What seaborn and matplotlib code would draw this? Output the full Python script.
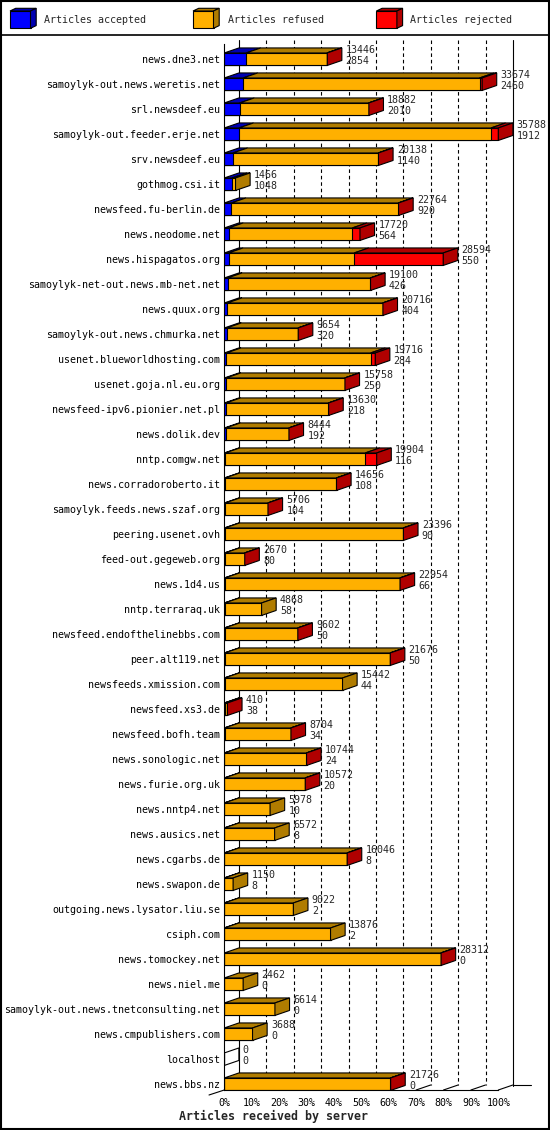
import matplotlib
matplotlib.use("Agg")
import matplotlib.pyplot as plt
from matplotlib.patches import Polygon, Rectangle
import pandas as pd
import seaborn as sns

# ---- data ----------------------------------------------------------------
servers = [
    "news.dne3.net", "samoylyk-out.news.weretis.net", "srl.newsdeef.eu",
    "samoylyk-out.feeder.erje.net", "srv.newsdeef.eu", "gothmog.csi.it",
    "newsfeed.fu-berlin.de", "news.neodome.net", "news.hispagatos.org",
    "samoylyk-net-out.news.mb-net.net", "news.quux.org",
    "samoylyk-out.news.chmurka.net", "usenet.blueworldhosting.com",
    "usenet.goja.nl.eu.org", "newsfeed-ipv6.pionier.net.pl", "news.dolik.dev",
    "nntp.comgw.net", "news.corradoroberto.it", "samoylyk.feeds.news.szaf.org",
    "peering.usenet.ovh", "feed-out.gegeweb.org", "news.1d4.us",
    "nntp.terraraq.uk", "newsfeed.endofthelinebbs.com", "peer.alt119.net",
    "newsfeeds.xmission.com", "newsfeed.xs3.de", "newsfeed.bofh.team",
    "news.sonologic.net", "news.furie.org.uk", "news.nntp4.net",
    "news.ausics.net", "news.cgarbs.de", "news.swapon.de",
    "outgoing.news.lysator.liu.se", "csiph.com", "news.tomockey.net",
    "news.niel.me", "samoylyk-out.news.tnetconsulting.net",
    "news.cmpublishers.com", "localhost", "news.bbs.nz",
]
accepted = [2854, 2460, 2010, 1912, 1140, 1048, 920, 564, 550, 426, 404, 320,
            284, 250, 218, 192, 116, 108, 104, 90, 80, 66, 58, 50, 50, 44, 38,
            34, 24, 20, 10, 8, 8, 8, 2, 2, 0, 0, 0, 0, 0, 0]
refused = [10552, 30884, 16842, 32926, 18968, 418, 21804, 16156, 16414, 18644,
           20292, 9314, 18832, 15488, 13382, 8242, 18288, 14528, 5592, 23286,
           2580, 22868, 4810, 9542, 21606, 15398, 362, 8660, 10710, 10542,
           5968, 6564, 16028, 1142, 9020, 13874, 28292, 2462, 6614, 3688, 0,
           21706]
rejected = [40, 330, 30, 950, 30, 0, 40, 1000, 11630, 30, 20, 20, 600, 20, 30,
            10, 1500, 20, 10, 20, 10, 20, 0, 10, 20, 0, 10, 10, 10, 10, 0, 0,
            10, 0, 0, 0, 20, 0, 0, 0, 0, 20]
pct_ticks = list(range(0, 101, 10))
legend_labels = ["Articles accepted", "Articles refused", "Articles rejected"]

BLUE, BLUE_D = "#0000ff", "#0000b0"
ORANGE, ORANGE_D = "#ffb000", "#b07c00"
RED, RED_D = "#ff0000", "#b00000"

sns.set_style("white")
plt.rcParams["font.family"] = ["DejaVu Sans Mono"]
FS = 7.2
LW = 0.8

W, H = 550, 1130
fig = plt.figure(figsize=(W / 100, H / 100), dpi=100)

# background axes in pixel units (legend, frame, title)
bg = fig.add_axes([0, 0, 1, 1], zorder=0)
bg.set_xlim(0, W)
bg.set_ylim(H, 0)
bg.axis("off")

# geometry of the plot area, pixels
X0, X100 = 224.3, 498.3
ROW0, PITCH = 59.2, 25.0
AX_L, AX_R, AX_T, AX_B = 224.3, 532.0, 40.0, 1090.0

ax = fig.add_axes([AX_L / W, 1 - AX_B / H, (AX_R - AX_L) / W, (AX_B - AX_T) / H],
                  zorder=1)
ax.patch.set_alpha(0)

df = pd.DataFrame({"server": servers, "accepted": accepted,
                   "refused": refused, "rejected": rejected})
df["acc_ref"] = df["accepted"] + df["refused"]
df["total"] = df["acc_ref"] + df["rejected"]

# front faces: overlapped cumulative bars
for col, c in [("total", RED), ("acc_ref", ORANGE), ("accepted", BLUE)]:
    sns.barplot(data=df, x=col, y="server", color=c, width=0.5, saturation=1,
                edgecolor="black", linewidth=LW, errorbar=None, ax=ax, zorder=2)

M = df["total"].max()
k = (X100 - X0) / M             # px per article
dx = 14.6 / k                   # depth offset, data units
dy = 5.0 / PITCH
y_top = (AX_T - ROW0) / PITCH
y_front = (AX_B - ROW0) / PITCH
y_back = y_front - dy

ax.set_xlim(0, (AX_R - AX_L) / k)
ax.set_ylim(y_front, y_top)

# top and side faces
for i, r in df.iterrows():
    top = i - 0.25
    segs = [(0, r["accepted"], BLUE_D), (r["accepted"], r["acc_ref"], ORANGE_D),
            (r["acc_ref"], r["total"], RED_D)]
    side_c = "none"
    for a, b, c in segs:
        if b > a:
            ax.add_patch(Polygon([(a, top), (b, top), (b + dx, top - dy),
                                  (a + dx, top - dy)], closed=True, fc=c,
                                 ec="black", lw=LW, zorder=2))
            side_c = c
    t = r["total"]
    ax.add_patch(Polygon([(t, top), (t, top + 0.5), (t + dx, top + 0.5 - dy),
                          (t + dx, top - dy)], closed=True, fc=side_c,
                         ec="black", lw=LW, zorder=2))
    tx = t + dx + 3.8 / k
    ax.text(tx, i - 0.37, str(t), fontsize=FS, ha="left", va="center",
            clip_on=False, zorder=3)
    ax.text(tx, i + 0.06, str(r["accepted"]), fontsize=FS, ha="left",
            va="center", clip_on=False, zorder=3)

# back grid
for p in pct_ticks:
    xb = p / 100 * M + dx
    ls = "-" if p in (0, 100) else (0, (3.2, 2.6))
    ax.plot([xb, xb], [y_top, y_back + (0.04 if p == 100 else 0)], color="black",
            lw=LW, ls=ls, zorder=0.5, clip_on=False)
    # floor connectors
    xf = p / 100 * M
    ax.plot([xf, xf + dx], [y_front, y_back], color="black", lw=LW,
            zorder=0.5, clip_on=False)
ax.plot([M + dx, M + dx + 18.4 / k], [y_back, y_back], color="black", lw=LW,
        zorder=0.5, clip_on=False)
ax.plot([-15.3 / k, 0], [y_front + dy, y_front], color="black", lw=LW,
        zorder=0.5, clip_on=False)

# axes
for s in ("top", "right"):
    ax.spines[s].set_visible(False)
ax.spines["bottom"].set_bounds(0, M)
ax.spines["left"].set_bounds(y_front, (44 - ROW0) / PITCH)
for s in ("bottom", "left"):
    ax.spines[s].set_linewidth(LW)
    ax.spines[s].set_color("black")
ax.set_xticks([p / 100 * M for p in pct_ticks], [f"{p}%" for p in pct_ticks])
ax.tick_params(axis="x", length=2.5, width=LW, pad=3, labelsize=FS,
               direction="out", colors="black")
ax.tick_params(axis="y", length=0, pad=3, labelsize=FS, colors="black")
ax.set_xlabel("")
ax.set_ylabel("")

# legend
for bx, tx, c, cd, lab in [(10, 44.5, BLUE, BLUE_D, legend_labels[0]),
                           (193, 228, ORANGE, ORANGE_D, legend_labels[1]),
                           (376.4, 410.4, RED, RED_D, legend_labels[2])]:
    w, t0, t1, ox, oy = 20.5, 11, 28.3, 5.7, 2.7
    bg.add_patch(Rectangle((bx, t0), w, t1 - t0, fc=c, ec="black", lw=LW))
    bg.add_patch(Polygon([(bx, t0), (bx + w, t0), (bx + w + ox, t0 - oy),
                          (bx + ox, t0 - oy)], fc=cd, ec="black", lw=LW))
    bg.add_patch(Polygon([(bx + w, t0), (bx + w, t1), (bx + w + ox, t1 - oy),
                          (bx + w + ox, t0 - oy)], fc=cd, ec="black", lw=LW))
    bg.text(tx, 20, lab, fontsize=FS, ha="left", va="center")

bg.plot([0, W], [35, 35], color="black", lw=1.2)
bg.add_patch(Rectangle((0.75, 0.75), W - 1.5, H - 1.5, fill=False,
                       ec="black", lw=1.5))
bg.text(273.5, 1116.7, "Articles received by server", fontsize=8.4,
        fontweight="bold", ha="center", va="center")

fig.savefig("out.png", dpi=100)
